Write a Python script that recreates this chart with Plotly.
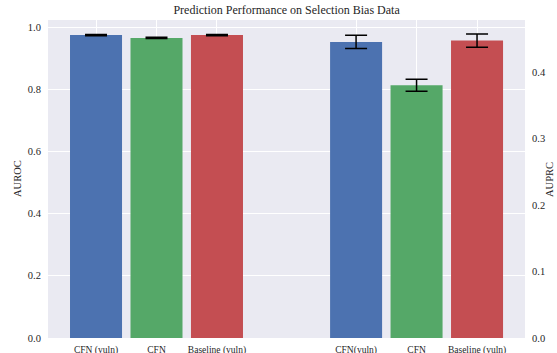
import plotly.graph_objects as go

# Data
categories_auroc = ["CFN (vuln)", "CFN", "Baseline (vuln)"]
categories_auprc = ["CFN(vuln)", "CFN", "Baseline (vuln)"]
auroc_values = [0.974, 0.965, 0.974]
auroc_errors = [0.002, 0.002, 0.002]
auprc_values = [0.445, 0.380, 0.447]
auprc_errors = [0.010, 0.009, 0.010]
x_auroc = [0, 1, 2]
x_auprc = [4.3, 5.3, 6.3]
colors = ["#4C72B0", "#55A868", "#C44E52"]

FONT = "Liberation Serif"

fig = go.Figure()
fig.add_trace(go.Bar(
    x=x_auroc, y=auroc_values, width=0.86,
    marker=dict(color=colors, line=dict(width=0)),
    error_y=dict(type="data", array=auroc_errors, color="black", thickness=1.5, width=11),
    yaxis="y", showlegend=False,
))
fig.add_trace(go.Bar(
    x=x_auprc, y=auprc_values, width=0.86,
    marker=dict(color=colors, line=dict(width=0)),
    error_y=dict(type="data", array=auprc_errors, color="black", thickness=1.5, width=11),
    yaxis="y2", showlegend=False,
))

fig.update_layout(
    width=557, height=353,
    margin=dict(l=48, r=32, t=20, b=15),
    paper_bgcolor="white", plot_bgcolor="#EAEAF2",
    font=dict(family=FONT, size=10.5, color="#262626"),
    title=dict(text="Prediction Performance on Selection Bias Data", x=0.5145, xanchor="center",
               y=0.972, yanchor="middle", font=dict(family=FONT, size=12, color="#262626")),
    barmode="overlay",
    xaxis=dict(
        range=[-0.794, 7.093], tickvals=x_auroc + x_auprc,
        ticktext=categories_auroc + categories_auprc,
        showgrid=True, gridcolor="white", gridwidth=1.2, zeroline=False,
        ticks="outside", ticklen=3, tickcolor="rgba(0,0,0,0)",
        tickfont=dict(size=9.5), automargin=False, showline=False,
    ),
    yaxis=dict(
        range=[0, 1.0225], tickvals=[0, 0.2, 0.4, 0.6, 0.8, 1.0], tickformat=".1f",
        showgrid=True, gridcolor="white", gridwidth=1.2, zeroline=False,
        ticks="outside", ticklen=4, tickcolor="rgba(0,0,0,0)", automargin=False,
    ),
    yaxis2=dict(
        range=[0, 0.478], tickvals=[0, 0.1, 0.2, 0.3, 0.4], tickformat=".1f",
        overlaying="y", side="right", showgrid=False, zeroline=False,
        ticks="outside", ticklen=4, tickcolor="rgba(0,0,0,0)", automargin=False,
    ),
    annotations=[
        dict(text="AUROC", textangle=-90, x=17, y=179, xref="paper", yref="paper",
             xanchor="center", yanchor="middle", showarrow=False, font=dict(size=10.5)),
        dict(text="AUPRC", textangle=-90, x=549, y=180, xref="paper", yref="paper",
             xanchor="center", yanchor="middle", showarrow=False, font=dict(size=10.5)),
    ],
)
# convert pixel positions of annotations into paper coordinates
pw = 557 - 48 - 32
ph = 353 - 20 - 15
for a in fig.layout.annotations:
    a.x = (a.x - 48) / pw
    a.y = (353 - 15 - a.y) / ph
fig.write_html("out.html", config={"displayModeBar": False},
               post_script="document.body.style.margin='0';document.body.style.overflow='hidden';")
